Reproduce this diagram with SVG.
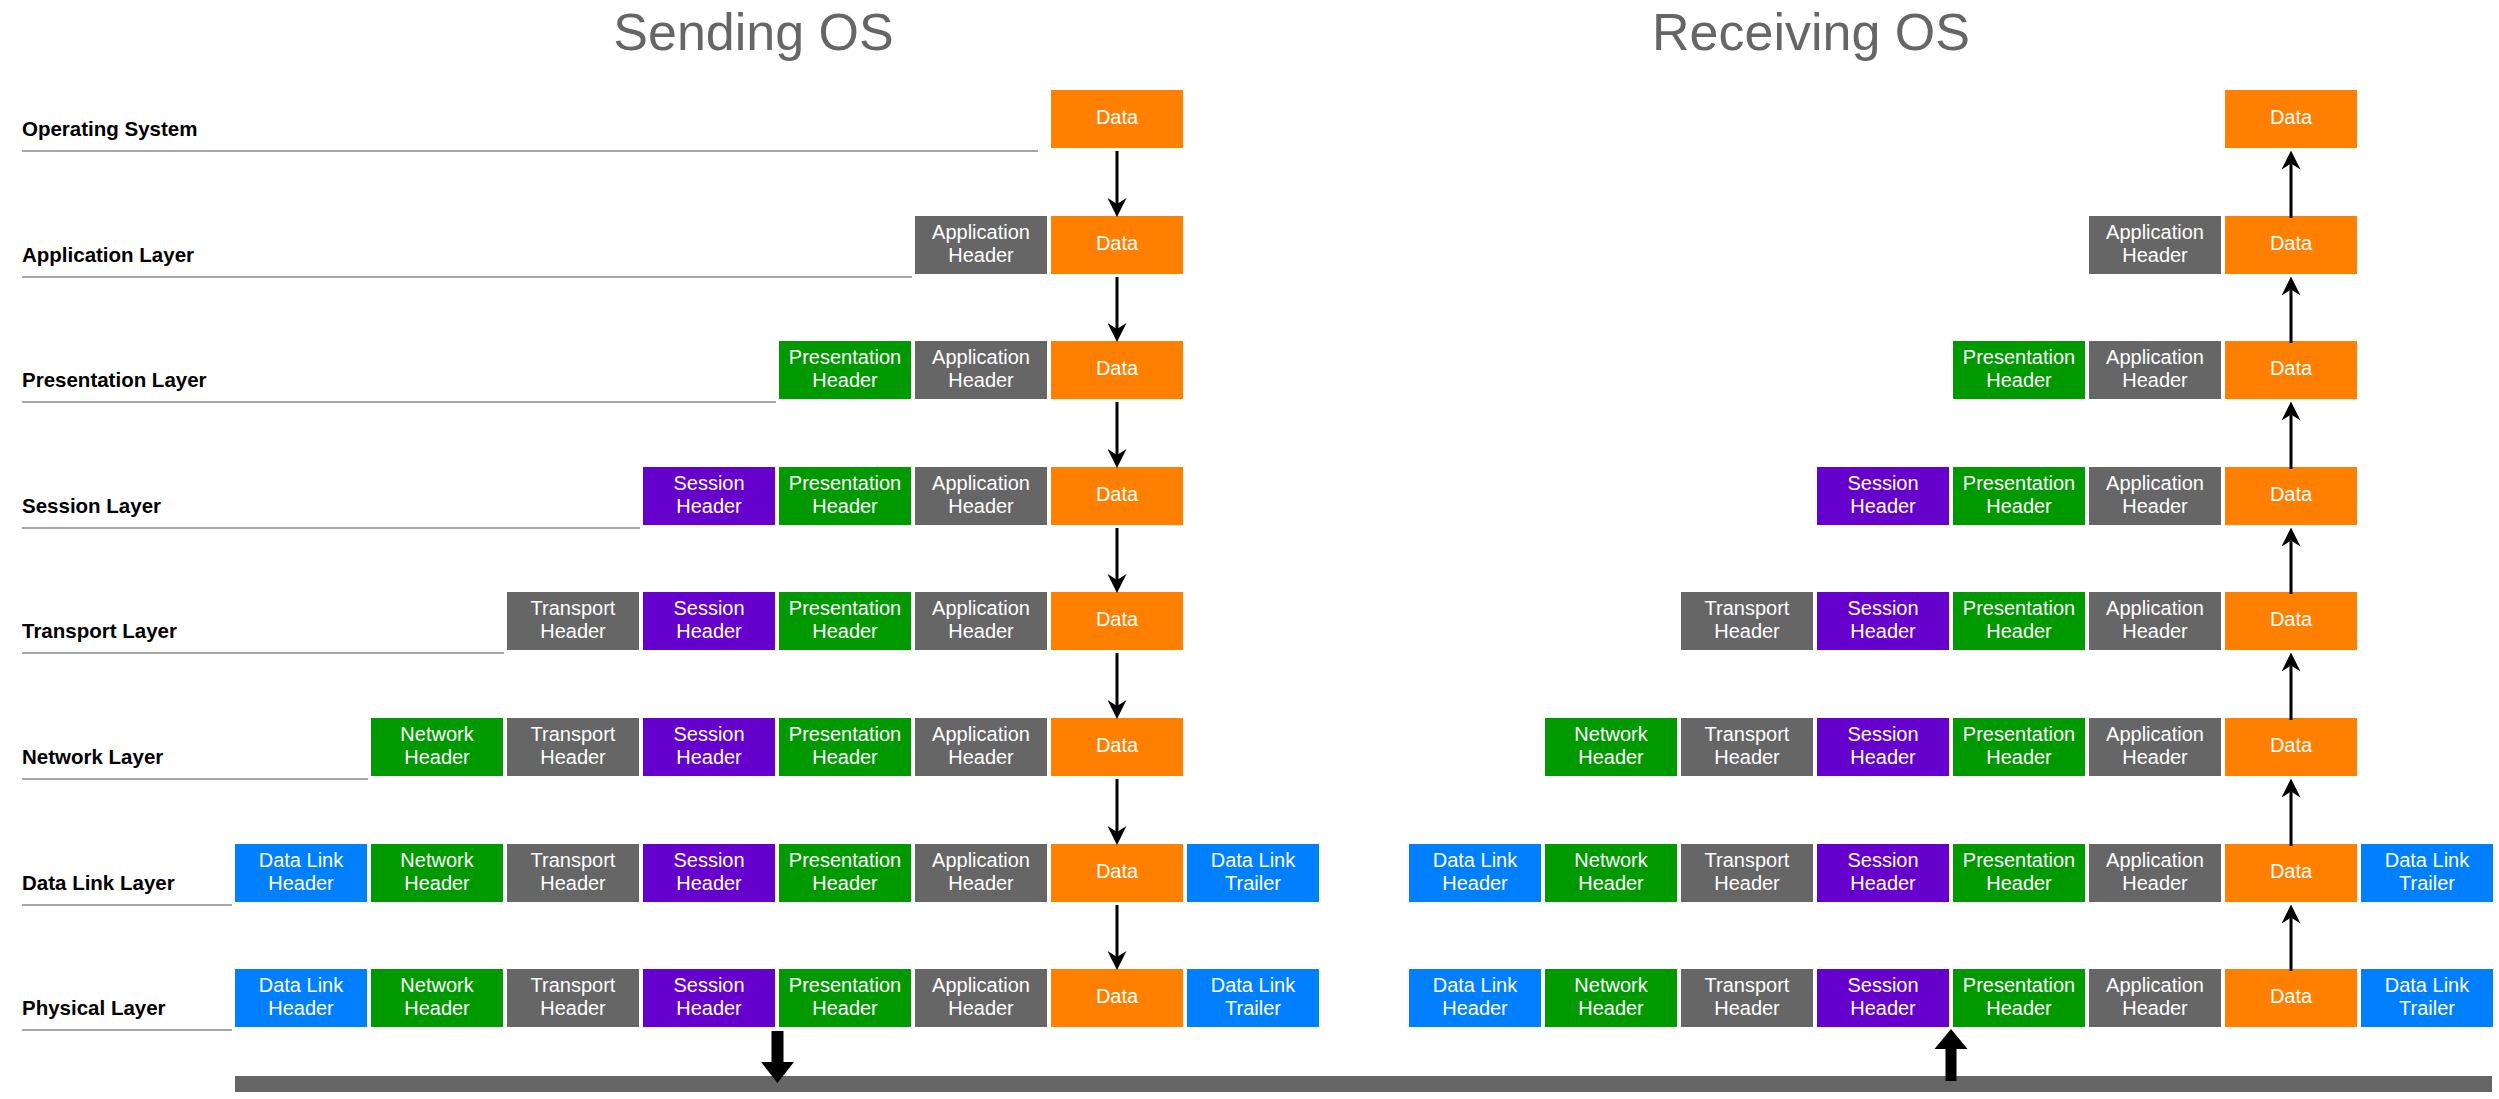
<svg xmlns="http://www.w3.org/2000/svg" width="2499" height="1099" viewBox="0 0 2499 1099">
<style>
.o{fill:#FF8000}.g{fill:#666666}.gr{fill:#009900}.p{fill:#6600CC}.b{fill:#0080FF}
.t{font-family:"Liberation Sans",Arial,Helvetica,sans-serif;font-size:20px;fill:#ffffff;text-anchor:middle}
.lbl{font-family:"Liberation Sans",Arial,Helvetica,sans-serif;font-size:20.5px;font-weight:bold;fill:#000000}
.title{font-family:"Liberation Sans",Arial,Helvetica,sans-serif;font-size:52px;fill:#666666;text-anchor:middle}
.rule{stroke:#888888;stroke-width:1.5}
.arr{stroke:#000000;stroke-width:3;fill:none;marker-end:url(#ah)}
.big{fill:#000000}
</style>
<defs>
<marker id="ah" markerUnits="userSpaceOnUse" markerWidth="19" markerHeight="19" viewBox="0 0 19 19" refX="6" refY="9.5" orient="auto">
<path d="M0,0 L19,9.5 L0,19 L6,9.5 Z" fill="#000000"/>
</marker>
</defs>

<g id="titles">
<text class="title" x="753.5" y="49.5">Sending OS</text>
<text class="title" x="1811" y="49.5">Receiving OS</text>
</g>

<g id="layer-labels">
<text class="lbl" x="22" y="136">Operating System</text>
<line class="rule" x1="22" y1="151" x2="1038" y2="151"/>
<text class="lbl" x="22" y="262">Application Layer</text>
<line class="rule" x1="22" y1="277" x2="912" y2="277"/>
<text class="lbl" x="22" y="387">Presentation Layer</text>
<line class="rule" x1="22" y1="402" x2="776" y2="402"/>
<text class="lbl" x="22" y="513">Session Layer</text>
<line class="rule" x1="22" y1="528" x2="640" y2="528"/>
<text class="lbl" x="22" y="638">Transport Layer</text>
<line class="rule" x1="22" y1="653" x2="504" y2="653"/>
<text class="lbl" x="22" y="764">Network Layer</text>
<line class="rule" x1="22" y1="779" x2="368" y2="779"/>
<text class="lbl" x="22" y="890">Data Link Layer</text>
<line class="rule" x1="22" y1="905" x2="232" y2="905"/>
<text class="lbl" x="22" y="1015">Physical Layer</text>
<line class="rule" x1="22" y1="1030" x2="232" y2="1030"/>
</g>

<!-- ===== Sending side ===== -->
<g id="s0-data" transform="translate(1051,90)"><rect class="o" width="132" height="58"/><text class="t" x="66" y="34">Data</text></g>

<g id="s1-app" transform="translate(915,216)"><rect class="g" width="132" height="58"/><text class="t" x="66" y="23">Application</text><text class="t" x="66" y="46">Header</text></g>
<g id="s1-data" transform="translate(1051,216)"><rect class="o" width="132" height="58"/><text class="t" x="66" y="34">Data</text></g>

<g id="s2-pres" transform="translate(779,341)"><rect class="gr" width="132" height="58"/><text class="t" x="66" y="23">Presentation</text><text class="t" x="66" y="46">Header</text></g>
<g id="s2-app" transform="translate(915,341)"><rect class="g" width="132" height="58"/><text class="t" x="66" y="23">Application</text><text class="t" x="66" y="46">Header</text></g>
<g id="s2-data" transform="translate(1051,341)"><rect class="o" width="132" height="58"/><text class="t" x="66" y="34">Data</text></g>

<g id="s3-sess" transform="translate(643,467)"><rect class="p" width="132" height="58"/><text class="t" x="66" y="23">Session</text><text class="t" x="66" y="46">Header</text></g>
<g id="s3-pres" transform="translate(779,467)"><rect class="gr" width="132" height="58"/><text class="t" x="66" y="23">Presentation</text><text class="t" x="66" y="46">Header</text></g>
<g id="s3-app" transform="translate(915,467)"><rect class="g" width="132" height="58"/><text class="t" x="66" y="23">Application</text><text class="t" x="66" y="46">Header</text></g>
<g id="s3-data" transform="translate(1051,467)"><rect class="o" width="132" height="58"/><text class="t" x="66" y="34">Data</text></g>

<g id="s4-trans" transform="translate(507,592)"><rect class="g" width="132" height="58"/><text class="t" x="66" y="23">Transport</text><text class="t" x="66" y="46">Header</text></g>
<g id="s4-sess" transform="translate(643,592)"><rect class="p" width="132" height="58"/><text class="t" x="66" y="23">Session</text><text class="t" x="66" y="46">Header</text></g>
<g id="s4-pres" transform="translate(779,592)"><rect class="gr" width="132" height="58"/><text class="t" x="66" y="23">Presentation</text><text class="t" x="66" y="46">Header</text></g>
<g id="s4-app" transform="translate(915,592)"><rect class="g" width="132" height="58"/><text class="t" x="66" y="23">Application</text><text class="t" x="66" y="46">Header</text></g>
<g id="s4-data" transform="translate(1051,592)"><rect class="o" width="132" height="58"/><text class="t" x="66" y="34">Data</text></g>

<g id="s5-net" transform="translate(371,718)"><rect class="gr" width="132" height="58"/><text class="t" x="66" y="23">Network</text><text class="t" x="66" y="46">Header</text></g>
<g id="s5-trans" transform="translate(507,718)"><rect class="g" width="132" height="58"/><text class="t" x="66" y="23">Transport</text><text class="t" x="66" y="46">Header</text></g>
<g id="s5-sess" transform="translate(643,718)"><rect class="p" width="132" height="58"/><text class="t" x="66" y="23">Session</text><text class="t" x="66" y="46">Header</text></g>
<g id="s5-pres" transform="translate(779,718)"><rect class="gr" width="132" height="58"/><text class="t" x="66" y="23">Presentation</text><text class="t" x="66" y="46">Header</text></g>
<g id="s5-app" transform="translate(915,718)"><rect class="g" width="132" height="58"/><text class="t" x="66" y="23">Application</text><text class="t" x="66" y="46">Header</text></g>
<g id="s5-data" transform="translate(1051,718)"><rect class="o" width="132" height="58"/><text class="t" x="66" y="34">Data</text></g>

<g id="s6-dlh" transform="translate(235,844)"><rect class="b" width="132" height="58"/><text class="t" x="66" y="23">Data Link</text><text class="t" x="66" y="46">Header</text></g>
<g id="s6-net" transform="translate(371,844)"><rect class="gr" width="132" height="58"/><text class="t" x="66" y="23">Network</text><text class="t" x="66" y="46">Header</text></g>
<g id="s6-trans" transform="translate(507,844)"><rect class="g" width="132" height="58"/><text class="t" x="66" y="23">Transport</text><text class="t" x="66" y="46">Header</text></g>
<g id="s6-sess" transform="translate(643,844)"><rect class="p" width="132" height="58"/><text class="t" x="66" y="23">Session</text><text class="t" x="66" y="46">Header</text></g>
<g id="s6-pres" transform="translate(779,844)"><rect class="gr" width="132" height="58"/><text class="t" x="66" y="23">Presentation</text><text class="t" x="66" y="46">Header</text></g>
<g id="s6-app" transform="translate(915,844)"><rect class="g" width="132" height="58"/><text class="t" x="66" y="23">Application</text><text class="t" x="66" y="46">Header</text></g>
<g id="s6-data" transform="translate(1051,844)"><rect class="o" width="132" height="58"/><text class="t" x="66" y="34">Data</text></g>
<g id="s6-dlt" transform="translate(1187,844)"><rect class="b" width="132" height="58"/><text class="t" x="66" y="23">Data Link</text><text class="t" x="66" y="46">Trailer</text></g>

<g id="s7-dlh" transform="translate(235,969)"><rect class="b" width="132" height="58"/><text class="t" x="66" y="23">Data Link</text><text class="t" x="66" y="46">Header</text></g>
<g id="s7-net" transform="translate(371,969)"><rect class="gr" width="132" height="58"/><text class="t" x="66" y="23">Network</text><text class="t" x="66" y="46">Header</text></g>
<g id="s7-trans" transform="translate(507,969)"><rect class="g" width="132" height="58"/><text class="t" x="66" y="23">Transport</text><text class="t" x="66" y="46">Header</text></g>
<g id="s7-sess" transform="translate(643,969)"><rect class="p" width="132" height="58"/><text class="t" x="66" y="23">Session</text><text class="t" x="66" y="46">Header</text></g>
<g id="s7-pres" transform="translate(779,969)"><rect class="gr" width="132" height="58"/><text class="t" x="66" y="23">Presentation</text><text class="t" x="66" y="46">Header</text></g>
<g id="s7-app" transform="translate(915,969)"><rect class="g" width="132" height="58"/><text class="t" x="66" y="23">Application</text><text class="t" x="66" y="46">Header</text></g>
<g id="s7-data" transform="translate(1051,969)"><rect class="o" width="132" height="58"/><text class="t" x="66" y="34">Data</text></g>
<g id="s7-dlt" transform="translate(1187,969)"><rect class="b" width="132" height="58"/><text class="t" x="66" y="23">Data Link</text><text class="t" x="66" y="46">Trailer</text></g>

<!-- ===== Receiving side ===== -->
<g id="r0-data" transform="translate(2225,90)"><rect class="o" width="132" height="58"/><text class="t" x="66" y="34">Data</text></g>

<g id="r1-app" transform="translate(2089,216)"><rect class="g" width="132" height="58"/><text class="t" x="66" y="23">Application</text><text class="t" x="66" y="46">Header</text></g>
<g id="r1-data" transform="translate(2225,216)"><rect class="o" width="132" height="58"/><text class="t" x="66" y="34">Data</text></g>

<g id="r2-pres" transform="translate(1953,341)"><rect class="gr" width="132" height="58"/><text class="t" x="66" y="23">Presentation</text><text class="t" x="66" y="46">Header</text></g>
<g id="r2-app" transform="translate(2089,341)"><rect class="g" width="132" height="58"/><text class="t" x="66" y="23">Application</text><text class="t" x="66" y="46">Header</text></g>
<g id="r2-data" transform="translate(2225,341)"><rect class="o" width="132" height="58"/><text class="t" x="66" y="34">Data</text></g>

<g id="r3-sess" transform="translate(1817,467)"><rect class="p" width="132" height="58"/><text class="t" x="66" y="23">Session</text><text class="t" x="66" y="46">Header</text></g>
<g id="r3-pres" transform="translate(1953,467)"><rect class="gr" width="132" height="58"/><text class="t" x="66" y="23">Presentation</text><text class="t" x="66" y="46">Header</text></g>
<g id="r3-app" transform="translate(2089,467)"><rect class="g" width="132" height="58"/><text class="t" x="66" y="23">Application</text><text class="t" x="66" y="46">Header</text></g>
<g id="r3-data" transform="translate(2225,467)"><rect class="o" width="132" height="58"/><text class="t" x="66" y="34">Data</text></g>

<g id="r4-trans" transform="translate(1681,592)"><rect class="g" width="132" height="58"/><text class="t" x="66" y="23">Transport</text><text class="t" x="66" y="46">Header</text></g>
<g id="r4-sess" transform="translate(1817,592)"><rect class="p" width="132" height="58"/><text class="t" x="66" y="23">Session</text><text class="t" x="66" y="46">Header</text></g>
<g id="r4-pres" transform="translate(1953,592)"><rect class="gr" width="132" height="58"/><text class="t" x="66" y="23">Presentation</text><text class="t" x="66" y="46">Header</text></g>
<g id="r4-app" transform="translate(2089,592)"><rect class="g" width="132" height="58"/><text class="t" x="66" y="23">Application</text><text class="t" x="66" y="46">Header</text></g>
<g id="r4-data" transform="translate(2225,592)"><rect class="o" width="132" height="58"/><text class="t" x="66" y="34">Data</text></g>

<g id="r5-net" transform="translate(1545,718)"><rect class="gr" width="132" height="58"/><text class="t" x="66" y="23">Network</text><text class="t" x="66" y="46">Header</text></g>
<g id="r5-trans" transform="translate(1681,718)"><rect class="g" width="132" height="58"/><text class="t" x="66" y="23">Transport</text><text class="t" x="66" y="46">Header</text></g>
<g id="r5-sess" transform="translate(1817,718)"><rect class="p" width="132" height="58"/><text class="t" x="66" y="23">Session</text><text class="t" x="66" y="46">Header</text></g>
<g id="r5-pres" transform="translate(1953,718)"><rect class="gr" width="132" height="58"/><text class="t" x="66" y="23">Presentation</text><text class="t" x="66" y="46">Header</text></g>
<g id="r5-app" transform="translate(2089,718)"><rect class="g" width="132" height="58"/><text class="t" x="66" y="23">Application</text><text class="t" x="66" y="46">Header</text></g>
<g id="r5-data" transform="translate(2225,718)"><rect class="o" width="132" height="58"/><text class="t" x="66" y="34">Data</text></g>

<g id="r6-dlh" transform="translate(1409,844)"><rect class="b" width="132" height="58"/><text class="t" x="66" y="23">Data Link</text><text class="t" x="66" y="46">Header</text></g>
<g id="r6-net" transform="translate(1545,844)"><rect class="gr" width="132" height="58"/><text class="t" x="66" y="23">Network</text><text class="t" x="66" y="46">Header</text></g>
<g id="r6-trans" transform="translate(1681,844)"><rect class="g" width="132" height="58"/><text class="t" x="66" y="23">Transport</text><text class="t" x="66" y="46">Header</text></g>
<g id="r6-sess" transform="translate(1817,844)"><rect class="p" width="132" height="58"/><text class="t" x="66" y="23">Session</text><text class="t" x="66" y="46">Header</text></g>
<g id="r6-pres" transform="translate(1953,844)"><rect class="gr" width="132" height="58"/><text class="t" x="66" y="23">Presentation</text><text class="t" x="66" y="46">Header</text></g>
<g id="r6-app" transform="translate(2089,844)"><rect class="g" width="132" height="58"/><text class="t" x="66" y="23">Application</text><text class="t" x="66" y="46">Header</text></g>
<g id="r6-data" transform="translate(2225,844)"><rect class="o" width="132" height="58"/><text class="t" x="66" y="34">Data</text></g>
<g id="r6-dlt" transform="translate(2361,844)"><rect class="b" width="132" height="58"/><text class="t" x="66" y="23">Data Link</text><text class="t" x="66" y="46">Trailer</text></g>

<g id="r7-dlh" transform="translate(1409,969)"><rect class="b" width="132" height="58"/><text class="t" x="66" y="23">Data Link</text><text class="t" x="66" y="46">Header</text></g>
<g id="r7-net" transform="translate(1545,969)"><rect class="gr" width="132" height="58"/><text class="t" x="66" y="23">Network</text><text class="t" x="66" y="46">Header</text></g>
<g id="r7-trans" transform="translate(1681,969)"><rect class="g" width="132" height="58"/><text class="t" x="66" y="23">Transport</text><text class="t" x="66" y="46">Header</text></g>
<g id="r7-sess" transform="translate(1817,969)"><rect class="p" width="132" height="58"/><text class="t" x="66" y="23">Session</text><text class="t" x="66" y="46">Header</text></g>
<g id="r7-pres" transform="translate(1953,969)"><rect class="gr" width="132" height="58"/><text class="t" x="66" y="23">Presentation</text><text class="t" x="66" y="46">Header</text></g>
<g id="r7-app" transform="translate(2089,969)"><rect class="g" width="132" height="58"/><text class="t" x="66" y="23">Application</text><text class="t" x="66" y="46">Header</text></g>
<g id="r7-data" transform="translate(2225,969)"><rect class="o" width="132" height="58"/><text class="t" x="66" y="34">Data</text></g>
<g id="r7-dlt" transform="translate(2361,969)"><rect class="b" width="132" height="58"/><text class="t" x="66" y="23">Data Link</text><text class="t" x="66" y="46">Trailer</text></g>

<g id="medium">
<rect class="g" x="235" y="1076" width="2257" height="16"/>
</g>

<g id="connectors">
<line class="arr" x1="1117" y1="151" x2="1117" y2="204"/>
<line class="arr" x1="1117" y1="277" x2="1117" y2="329"/>
<line class="arr" x1="1117" y1="402" x2="1117" y2="455"/>
<line class="arr" x1="1117" y1="528" x2="1117" y2="580"/>
<line class="arr" x1="1117" y1="653" x2="1117" y2="706"/>
<line class="arr" x1="1117" y1="779" x2="1117" y2="832"/>
<line class="arr" x1="1117" y1="905" x2="1117" y2="957"/>

<line class="arr" x1="2291" y1="218" x2="2291" y2="163.5"/>
<line class="arr" x1="2291" y1="343" x2="2291" y2="289.5"/>
<line class="arr" x1="2291" y1="469" x2="2291" y2="414.5"/>
<line class="arr" x1="2291" y1="594" x2="2291" y2="540.5"/>
<line class="arr" x1="2291" y1="720" x2="2291" y2="665.5"/>
<line class="arr" x1="2291" y1="846" x2="2291" y2="791.5"/>
<line class="arr" x1="2291" y1="971" x2="2291" y2="917.5"/>

<path class="big" d="M771.5,1031 L783.5,1031 L783.5,1062 L794,1062 L777.5,1083 L761,1062 L771.5,1062 Z"/>
<path class="big" d="M1945.5,1081 L1956.5,1081 L1956.5,1049 L1967.5,1049 L1951,1029 L1934.5,1049 L1945.5,1049 Z"/>
</g>
</svg>
